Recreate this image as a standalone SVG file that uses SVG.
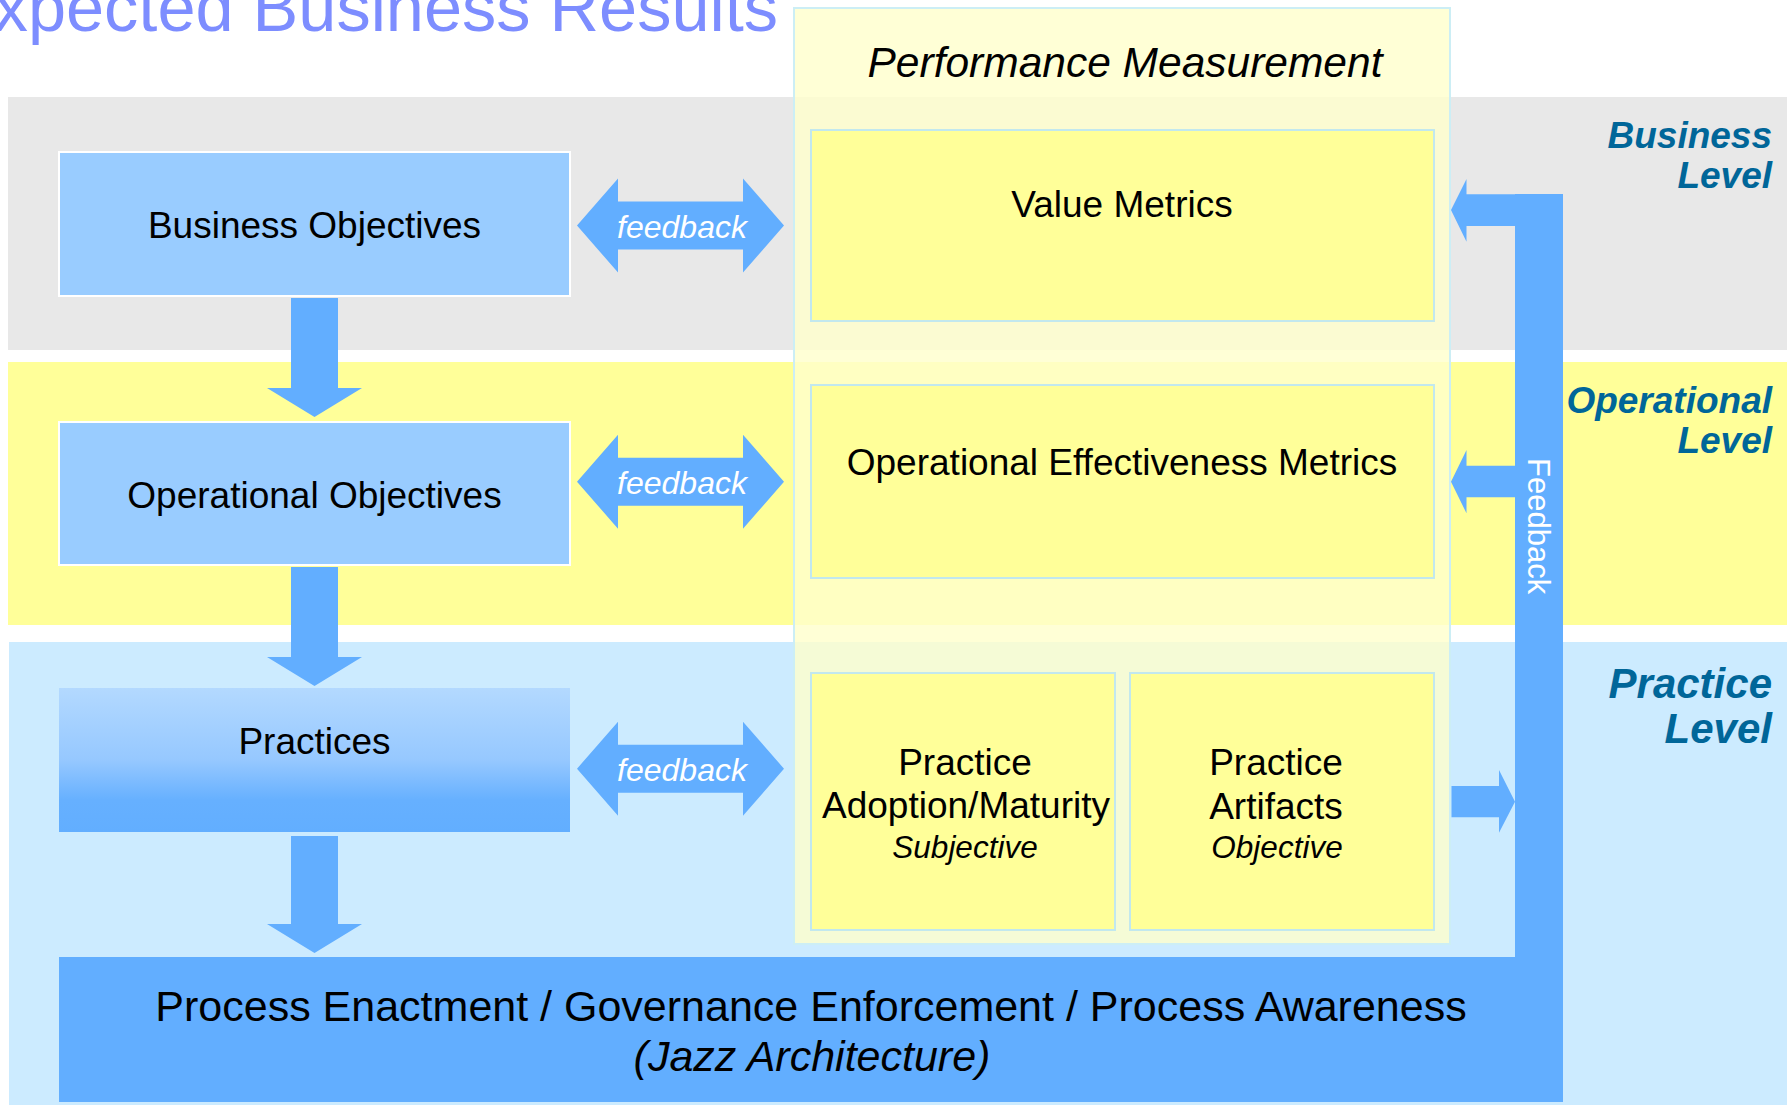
<svg xmlns="http://www.w3.org/2000/svg" width="1787" height="1105" viewBox="0 0 1787 1105">
  <defs>
    <linearGradient id="practiceFill" x1="0" y1="0" x2="0" y2="1">
      <stop offset="0" stop-color="#B3D9FF"/>
      <stop offset="0.5" stop-color="#96C8FF"/>
      <stop offset="0.78" stop-color="#66B0FF"/>
      <stop offset="1" stop-color="#62AEFF"/>
    </linearGradient>
  </defs>
  <style>
    text { font-family: "Liberation Sans", Arial, Helvetica, sans-serif; }
    .flow { fill: #62AEFF; }
    .objective { fill: #99CCFF; stroke: #FFFFFF; stroke-width: 2; }
    .metric { fill: #FFFF99; stroke: #C2E8EE; stroke-width: 2; }
    .label { font-size: 37px; fill: #000000; text-anchor: middle; }
    .note { font-size: 31.5px; font-style: italic; fill: #000000; text-anchor: middle; }
    .fb { font-size: 32px; font-style: italic; fill: #FFFFFF; text-anchor: middle; }
    .level { font-weight: bold; font-style: italic; fill: #006699; text-anchor: end; }
    .base { font-size: 43px; fill: #000000; text-anchor: middle; }
  </style>

  <rect width="1787" height="1105" fill="#FFFFFF"/>

  <!-- title running off the left edge -->
  <text x="778" y="31" font-size="68.5" fill="#7D8DFF" text-anchor="end">Expected Business Results</text>

  <!-- level bands -->
  <g id="bands">
    <rect x="8" y="97" width="1779" height="253" fill="#E8E8E8"/>
    <rect x="8" y="362" width="1779" height="263" fill="#FFFF99"/>
    <rect x="9" y="642" width="1778" height="463" fill="#CCEBFF"/>
  </g>

  <!-- level captions -->
  <g id="level-business">
    <text class="level" font-size="37" x="1772" y="148">Business</text>
    <text class="level" font-size="37" x="1772" y="188">Level</text>
  </g>
  <g id="level-operational">
    <text class="level" font-size="37" x="1772" y="413">Operational</text>
    <text class="level" font-size="37" x="1772" y="453">Level</text>
  </g>
  <g id="level-practice">
    <text class="level" font-size="42" x="1772" y="698">Practice</text>
    <text class="level" font-size="42" x="1772" y="743">Level</text>
  </g>

  <!-- performance measurement container -->
  <g id="performance-measurement">
    <rect x="794" y="8" width="656" height="936" fill="#FFFFCC" fill-opacity="0.8" stroke="#CCEEF5" stroke-width="2"/>
    <text x="1125" y="77" font-size="42.5" font-style="italic" text-anchor="middle">Performance Measurement</text>
  </g>

  <g id="value-metrics">
    <rect class="metric" x="811" y="130" width="623" height="191"/>
    <text class="label" x="1122" y="217">Value Metrics</text>
  </g>

  <g id="operational-effectiveness-metrics">
    <rect class="metric" x="811" y="385" width="623" height="193"/>
    <text class="label" font-size="38.5" x="1122" y="475">Operational Effectiveness Metrics</text>
  </g>

  <g id="practice-adoption">
    <rect class="metric" x="811" y="673" width="304" height="257"/>
    <text class="label" font-size="37.5" x="965" y="775">Practice</text>
    <text class="label" font-size="37.5" x="966" y="818">Adoption/Maturity</text>
    <text class="note" x="965" y="858">Subjective</text>
  </g>

  <g id="practice-artifacts">
    <rect class="metric" x="1130" y="673" width="304" height="257"/>
    <text class="label" font-size="37.5" x="1276" y="775">Practice</text>
    <text class="label" font-size="37.5" x="1276" y="819">Artifacts</text>
    <text class="note" x="1277" y="858">Objective</text>
  </g>

  <!-- objectives column -->
  <g id="business-objectives">
    <rect class="objective" x="59" y="152" width="511" height="144"/>
    <text class="label" font-size="35.5" x="314.5" y="237.5">Business Objectives</text>
  </g>

  <g id="operational-objectives">
    <rect class="objective" x="59" y="422" width="511" height="143"/>
    <text class="label" font-size="37.5" x="314.5" y="507.5">Operational Objectives</text>
  </g>

  <g id="practices">
    <rect x="59" y="688" width="511" height="144" fill="url(#practiceFill)"/>
    <text class="label" x="314.5" y="754">Practices</text>
  </g>

  <!-- process enactment base with the feedback riser -->
  <g id="process-enactment">
    <rect class="flow" x="59" y="957" width="1504" height="145"/>
    <text class="base" x="811" y="1020.5">Process Enactment / Governance Enforcement / Process Awareness</text>
    <text class="base" font-style="italic" x="812" y="1070.5">(Jazz Architecture)</text>
  </g>

  <g id="connectors">
    <!-- downward flow between levels -->
    <polygon class="flow" points="291,298 338,298 338,388 362,388 314.5,417 267,388 291,388"/>
    <polygon class="flow" points="291,567 338,567 338,657 362,657 314.5,686 267,657 291,657"/>
    <polygon class="flow" points="291,836 338,836 338,924 362,924 314.5,953 267,924 291,924"/>

    <!-- two-way feedback between objectives and metrics -->
    <polygon class="flow" points="577,225.5 618,178.5 618,201.5 743,201.5 743,178.5 784,225.5 743,272.5 743,249.5 618,249.5 618,272.5"/>
    <text class="fb" x="682" y="238">feedback</text>
    <polygon class="flow" points="577,481.7 618,434.7 618,457.7 743,457.7 743,434.7 784,481.7 743,528.7 743,505.7 618,505.7 618,528.7"/>
    <text class="fb" x="682" y="494">feedback</text>
    <polygon class="flow" points="577,768.7 618,721.7 618,744.7 743,744.7 743,721.7 784,768.7 743,815.7 743,792.7 618,792.7 618,815.7"/>
    <text class="fb" x="682" y="781">feedback</text>

    <!-- feedback riser on the right -->
    <rect class="flow" x="1515" y="194" width="48" height="908"/>
    <text x="0" y="0" font-size="31" fill="#FFFFFF" transform="translate(1528,458) rotate(90)">Feedback</text>
    <polygon class="flow" points="1451,210 1466.5,179 1466.5,194.3 1516,194.3 1516,226 1466.5,226 1466.5,241.7"/>
    <polygon class="flow" points="1451,481.7 1466.5,450 1466.5,465.7 1516,465.7 1516,497.3 1466.5,497.3 1466.5,513.3"/>
    <polygon class="flow" points="1451.5,786 1499,786 1499,770 1515,801.7 1499,832.7 1499,817.3 1451.5,817.3"/>
  </g>
</svg>
